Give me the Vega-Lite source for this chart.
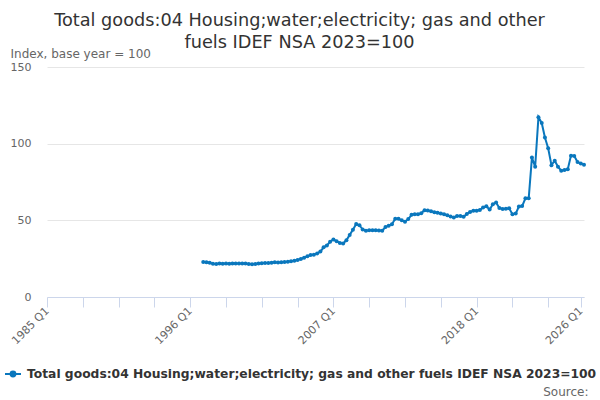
{
  "$schema": "https://vega.github.io/schema/vega-lite/v6.json",
  "width": 537,
  "height": 230,
  "autosize": "none",
  "padding": {"left": 47, "top": 67, "right": 16, "bottom": 103},
  "config": {
    "font": "DejaVu Sans",
    "view": {"stroke": null}
  },
  "title": {
    "text": ["Total goods:04 Housing;water;electricity; gas and other", "fuels IDEF NSA 2023=100"],
    "fontSize": 17.7,
    "fontWeight": "normal",
    "color": "#333333",
    "anchor": "middle",
    "dx": -16,
    "lineHeight": 22,
    "offset": -5
  },
  "data": {
    "values": [
      {"date": "1997-01-01", "value": 22.9},
      {"date": "1997-04-01", "value": 22.7},
      {"date": "1997-07-01", "value": 22.3},
      {"date": "1997-10-01", "value": 21.7},
      {"date": "1998-01-01", "value": 21.5},
      {"date": "1998-04-01", "value": 21.8},
      {"date": "1998-07-01", "value": 21.7},
      {"date": "1998-10-01", "value": 21.8},
      {"date": "1999-01-01", "value": 21.7},
      {"date": "1999-04-01", "value": 21.8},
      {"date": "1999-07-01", "value": 21.9},
      {"date": "1999-10-01", "value": 21.8},
      {"date": "2000-01-01", "value": 21.8},
      {"date": "2000-04-01", "value": 21.9},
      {"date": "2000-07-01", "value": 21.6},
      {"date": "2000-10-01", "value": 21.4},
      {"date": "2001-01-01", "value": 21.6},
      {"date": "2001-04-01", "value": 21.8},
      {"date": "2001-07-01", "value": 22.0},
      {"date": "2001-10-01", "value": 22.2},
      {"date": "2002-01-01", "value": 22.1},
      {"date": "2002-04-01", "value": 22.4},
      {"date": "2002-07-01", "value": 22.6},
      {"date": "2002-10-01", "value": 22.5},
      {"date": "2003-01-01", "value": 22.7},
      {"date": "2003-04-01", "value": 22.9},
      {"date": "2003-07-01", "value": 23.0},
      {"date": "2003-10-01", "value": 23.3},
      {"date": "2004-01-01", "value": 23.6},
      {"date": "2004-04-01", "value": 24.2},
      {"date": "2004-07-01", "value": 24.8},
      {"date": "2004-10-01", "value": 25.6},
      {"date": "2005-01-01", "value": 26.6},
      {"date": "2005-04-01", "value": 27.4},
      {"date": "2005-07-01", "value": 27.6},
      {"date": "2005-10-01", "value": 28.4},
      {"date": "2006-01-01", "value": 29.6},
      {"date": "2006-04-01", "value": 32.4},
      {"date": "2006-07-01", "value": 33.6},
      {"date": "2006-10-01", "value": 36.0},
      {"date": "2007-01-01", "value": 37.5},
      {"date": "2007-04-01", "value": 36.4},
      {"date": "2007-07-01", "value": 35.2},
      {"date": "2007-10-01", "value": 34.9},
      {"date": "2008-01-01", "value": 37.0},
      {"date": "2008-04-01", "value": 40.5},
      {"date": "2008-07-01", "value": 43.8},
      {"date": "2008-10-01", "value": 47.6},
      {"date": "2009-01-01", "value": 46.8},
      {"date": "2009-04-01", "value": 44.0},
      {"date": "2009-07-01", "value": 43.2},
      {"date": "2009-10-01", "value": 43.5},
      {"date": "2010-01-01", "value": 43.6},
      {"date": "2010-04-01", "value": 43.6},
      {"date": "2010-07-01", "value": 43.4},
      {"date": "2010-10-01", "value": 43.2},
      {"date": "2011-01-01", "value": 45.6},
      {"date": "2011-04-01", "value": 46.5},
      {"date": "2011-07-01", "value": 47.5},
      {"date": "2011-10-01", "value": 51.0},
      {"date": "2012-01-01", "value": 51.0},
      {"date": "2012-04-01", "value": 50.0},
      {"date": "2012-07-01", "value": 49.1},
      {"date": "2012-10-01", "value": 50.8},
      {"date": "2013-01-01", "value": 53.6},
      {"date": "2013-04-01", "value": 54.0},
      {"date": "2013-07-01", "value": 54.0},
      {"date": "2013-10-01", "value": 54.6},
      {"date": "2014-01-01", "value": 56.5},
      {"date": "2014-04-01", "value": 56.4},
      {"date": "2014-07-01", "value": 56.0},
      {"date": "2014-10-01", "value": 55.3},
      {"date": "2015-01-01", "value": 54.9},
      {"date": "2015-04-01", "value": 54.5},
      {"date": "2015-07-01", "value": 54.0},
      {"date": "2015-10-01", "value": 53.3},
      {"date": "2016-01-01", "value": 52.5},
      {"date": "2016-04-01", "value": 51.9},
      {"date": "2016-07-01", "value": 52.8},
      {"date": "2016-10-01", "value": 52.8},
      {"date": "2017-01-01", "value": 52.3},
      {"date": "2017-04-01", "value": 54.2},
      {"date": "2017-07-01", "value": 55.5},
      {"date": "2017-10-01", "value": 56.2},
      {"date": "2018-01-01", "value": 56.2},
      {"date": "2018-04-01", "value": 56.7},
      {"date": "2018-07-01", "value": 58.4},
      {"date": "2018-10-01", "value": 59.2},
      {"date": "2019-01-01", "value": 57.0},
      {"date": "2019-04-01", "value": 60.5},
      {"date": "2019-07-01", "value": 61.6},
      {"date": "2019-10-01", "value": 58.0},
      {"date": "2020-01-01", "value": 57.4},
      {"date": "2020-04-01", "value": 57.5},
      {"date": "2020-07-01", "value": 57.8},
      {"date": "2020-10-01", "value": 54.0},
      {"date": "2021-01-01", "value": 54.4},
      {"date": "2021-04-01", "value": 59.0},
      {"date": "2021-07-01", "value": 59.3},
      {"date": "2021-10-01", "value": 64.4},
      {"date": "2022-01-01", "value": 64.4},
      {"date": "2022-04-01", "value": 90.9},
      {"date": "2022-07-01", "value": 85.0},
      {"date": "2022-10-01", "value": 117.3},
      {"date": "2023-01-01", "value": 113.5},
      {"date": "2023-04-01", "value": 104.0},
      {"date": "2023-07-01", "value": 97.0},
      {"date": "2023-10-01", "value": 86.0},
      {"date": "2024-01-01", "value": 88.9},
      {"date": "2024-04-01", "value": 85.0},
      {"date": "2024-07-01", "value": 82.4},
      {"date": "2024-10-01", "value": 82.8},
      {"date": "2025-01-01", "value": 83.3},
      {"date": "2025-04-01", "value": 92.2},
      {"date": "2025-07-01", "value": 92.0},
      {"date": "2025-10-01", "value": 88.0},
      {"date": "2026-01-01", "value": 87.0},
      {"date": "2026-04-01", "value": 86.3}
    ]
  },
  "transform": [
    {"calculate": "'Total goods:04 Housing;water;electricity; gas and other fuels IDEF NSA 2023=100'", "as": "series"}
  ],
  "mark": {
    "type": "line",
    "strokeWidth": 2,
    "point": {"filled": true, "size": 16}
  },
  "encoding": {
    "x": {
      "field": "date",
      "type": "temporal",
      "scale": {
        "type": "utc",
        "domain": [
          {"year": 1985, "month": 1, "date": 1, "utc": true},
          {"year": 2026, "month": 4, "date": 1, "utc": true}
        ]
      },
      "axis": {
        "title": "Source:",
        "titleX": 541,
        "titleY": 94,
        "titleAlign": "right",
        "titleBaseline": "middle",
        "titleAnchor": null,
        "titleFontSize": 12,
        "titleFontWeight": "normal",
        "titleColor": "#666666",
        "values": [
          {"year": 1985, "quarter": 1, "utc": true},
          {"year": 1987, "quarter": 4, "utc": true},
          {"year": 1990, "quarter": 3, "utc": true},
          {"year": 1993, "quarter": 2, "utc": true},
          {"year": 1996, "quarter": 1, "utc": true},
          {"year": 1998, "quarter": 4, "utc": true},
          {"year": 2001, "quarter": 3, "utc": true},
          {"year": 2004, "quarter": 2, "utc": true},
          {"year": 2007, "quarter": 1, "utc": true},
          {"year": 2009, "quarter": 4, "utc": true},
          {"year": 2012, "quarter": 3, "utc": true},
          {"year": 2015, "quarter": 2, "utc": true},
          {"year": 2018, "quarter": 1, "utc": true},
          {"year": 2020, "quarter": 4, "utc": true},
          {"year": 2023, "quarter": 3, "utc": true},
          {"year": 2026, "quarter": 1, "utc": true}
        ],
        "labelExpr": "utcmonth(datum.value) == 0 && indexof([1985, 1996, 2007, 2018, 2026], utcyear(datum.value)) >= 0 ? utcFormat(datum.value, '%Y') + ' Q1' : ''",
        "labelAngle": -45,
        "labelAlign": "right",
        "labelBaseline": "middle",
        "labelFontSize": 11,
        "labelColor": "#666666",
        "labelPadding": 2,
        "labelOverlap": false,
        "labelFlush": false,
        "domainColor": "#ccd6eb",
        "tickColor": "#ccd6eb",
        "tickSize": 10,
        "grid": false
      }
    },
    "y": {
      "field": "value",
      "type": "quantitative",
      "scale": {"domain": [0, 150]},
      "axis": {
        "title": "Index, base year = 100",
        "titleAngle": 0,
        "titleAlign": "left",
        "titleBaseline": "middle",
        "titleX": -37,
        "titleY": -14,
        "titleFontSize": 12,
        "titleFontWeight": "normal",
        "titleColor": "#666666",
        "values": [0, 50, 100, 150],
        "labelFontSize": 11,
        "labelColor": "#666666",
        "labelPadding": 16,
        "ticks": false,
        "domain": false,
        "gridColor": "#e6e6e6"
      }
    },
    "color": {
      "field": "series",
      "type": "nominal",
      "scale": {"range": ["#0a77bd"]},
      "legend": {
        "title": null,
        "orient": "none",
        "legendX": -43,
        "legendY": 298,
        "symbolType": "M-1,0H1M0.3,0A0.3,0.3 0 1 1 -0.3,0A0.3,0.3 0 1 1 0.3,0",
        "symbolSize": 256,
        "symbolStrokeWidth": 2,
        "labelFontSize": 12.3,
        "labelFontWeight": "bold",
        "labelColor": "#333333",
        "labelLimit": 0,
        "labelOffset": 5
      }
    }
  }
}
